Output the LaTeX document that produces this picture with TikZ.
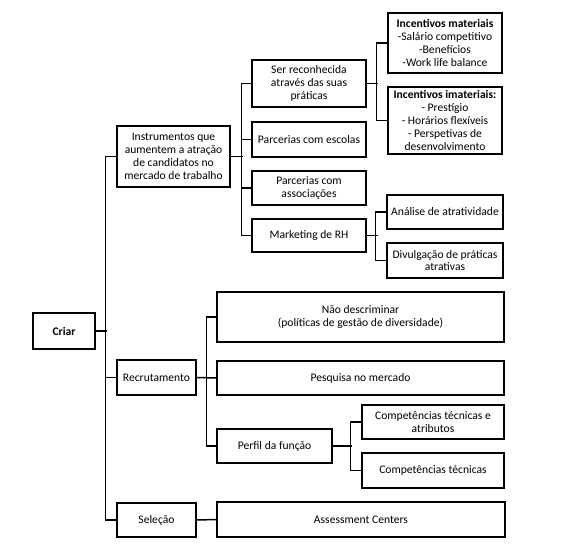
\documentclass[tikz,border=0pt]{standalone}
\usepackage{fontspec}
\setmainfont{Carlito}
\begin{document}
\begin{tikzpicture}[x=1pt,y=-1pt,
  box/.style={draw=black,line width=1.5pt,fill=white,align=center,inner sep=1pt,
    font=\fontsize{11.6}{12.9}\selectfont},
  conn/.style={line width=1.5pt,line join=miter}]
\useasboundingbox (0,0) rectangle (568,553);
% nodes
\node[box,minimum width=62pt,minimum height=36pt] (criar) at (64,331) {\textbf{Criar}};
\node[box,minimum width=113pt,minimum height=61pt] (instr) at (173.5,156.5) {Instrumentos que\\aumentem a atração\\de candidatos no\\mercado de trabalho};
\node[box,minimum width=114pt,minimum height=47pt] (ser) at (309,83.5) {Ser reconhecida\\através das suas\\práticas};
\node[box,minimum width=114pt,minimum height=35pt] (esc) at (309,139.5) {Parcerias com escolas};
\node[box,minimum width=114pt,minimum height=34pt] (assoc) at (309,188) {Parcerias com\\associações};
\node[box,minimum width=114pt,minimum height=33pt] (mkt) at (309,235.5) {Marketing de RH};
\node[box,minimum width=114pt,minimum height=60pt] (incmat) at (445,43) {\textbf{Incentivos materiais}\\-Salário competitivo\\-Benefícios\\-Work life balance};
\node[box,minimum width=114pt,minimum height=67pt] (incimat) at (445,120.5) {\textbf{Incentivos imateriais:}\\- Prestígio\\- Horários flexíveis\\- Perspetivas de\\desenvolvimento};
\node[box,minimum width=116pt,minimum height=34pt] (anal) at (445,212) {Análise de atratividade};
\node[box,minimum width=116pt,minimum height=35pt] (divul) at (445,260.5) {Divulgação de práticas\\atrativas};
\node[box,minimum width=79pt,minimum height=35pt] (recr) at (156.5,377.5) {Recrutamento};
\node[box,minimum width=287pt,minimum height=50pt] (naod) at (360.5,317) {Não descriminar\\(políticas de gestão de diversidade)};
\node[box,minimum width=287pt,minimum height=34pt] (pesq) at (360.5,378) {Pesquisa no mercado};
\node[box,minimum width=115pt,minimum height=34pt] (perfil) at (274.5,446) {Perfil da função};
\node[box,minimum width=142pt,minimum height=34pt] (cta) at (433,422) {Competências técnicas e\\atributos};
\node[box,minimum width=142pt,minimum height=35pt] (ct) at (433,470.5) {Competências técnicas};
\node[box,minimum width=79pt,minimum height=34pt] (sel) at (156.5,520) {Seleção};
\node[box,minimum width=288pt,minimum height=35pt] (assess) at (361,519.5) {Assessment Centers};
% connectors
\draw[conn] (criar.east) -- ++(11,0);
\draw[conn] (instr.west) -- ++(-11,0) |- (sel.west);
\draw[conn] (recr.west) -- ++(-11,0);
\draw[conn] (instr.east) -- ++(12,0);
\draw[conn] (ser.west) -- ++(-10,0) |- (mkt.west);
\draw[conn] (esc.west) -- ++(-10,0);
\draw[conn] (assoc.west) -- ++(-10,0);
\draw[conn] (ser.east) -- ++(11,0);
\draw[conn] (incmat.west) -- ++(-11,0) |- (incimat.west);
\draw[conn] (mkt.east) -- ++(11,0);
\draw[conn] (anal.west) -- ++(-11,0) |- (divul.west);
\draw[conn] (recr.east) -- (pesq.west);
\draw[conn] (naod.west) -- ++(-10,0) |- (perfil.west);
\draw[conn] (perfil.east) -- ++(19,0);
\draw[conn] (cta.west) -- ++(-11,0) |- (ct.west);
\draw[conn] (sel.east) -- (assess.west);
\end{tikzpicture}
\end{document}
